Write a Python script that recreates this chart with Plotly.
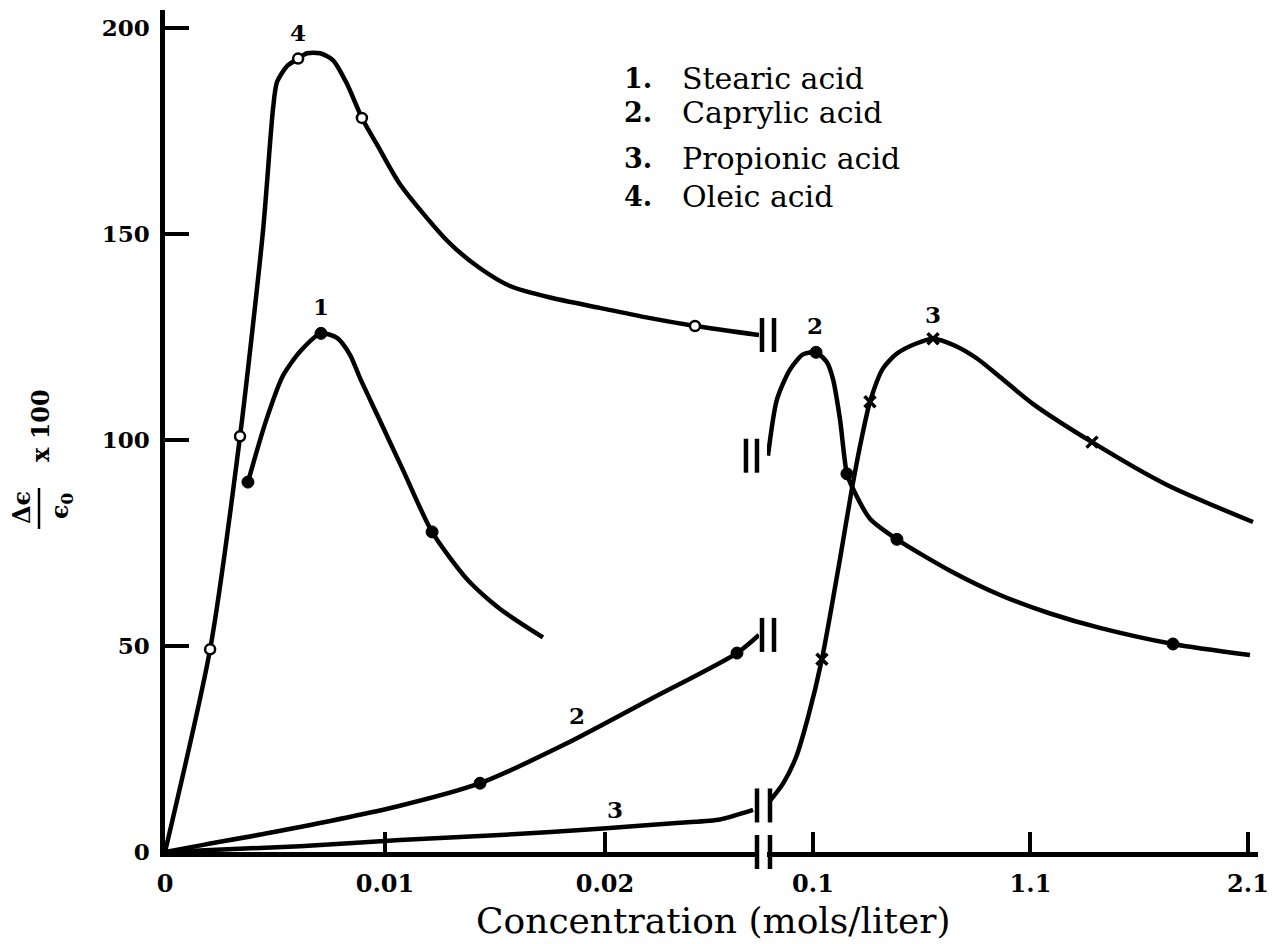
import plotly.graph_objects as go

# ---------------- data (concentration in mols/liter, value = (delta eps / eps0) x 100) ----------------
# left (low concentration) panel
oleic_curve_c = [0, 0.00205, 0.00341, 0.00445, 0.00491, 0.00509, 0.00555, 0.00605,
                 0.00645, 0.00705, 0.00764, 0.00827, 0.00895, 0.00964, 0.01068, 0.01286, 0.01432,
                 0.01568, 0.01750, 0.01977, 0.02205, 0.02409, 0.02700]
oleic_curve_v = [0, 49.2, 100.9, 150.5, 180.4, 186.9, 190.8, 192.6,
                 193.9, 193.9, 192.2, 186.5, 178.2, 171.7, 162.1, 148.2, 141.7,
                 137.4, 134.6, 132.1, 129.6, 127.7, 125.5]
oleic_pts_c = [0.00205, 0.00341, 0.00605, 0.00895, 0.02409]
oleic_pts_v = [49.2, 100.9, 192.6, 178.2, 127.7]

stearic_curve_c = [0.00377, 0.00455, 0.00536, 0.00614, 0.00709, 0.00782, 0.00841, 0.00886, 0.00964,
                   0.01082, 0.01214, 0.01373, 0.01523, 0.01718]
stearic_curve_v = [89.8, 104.0, 115.6, 121.5, 125.9, 124.8, 120.7, 115.1, 106.2,
                   92.7, 77.7, 66.2, 59.0, 52.1]
stearic_pts_c = [0.00377, 0.00709, 0.01214]
stearic_pts_v = [89.8, 125.9, 77.7]

caprylic_low_curve_c = [0, 0.0018, 0.0047, 0.0105, 0.01432, 0.0182, 0.0221, 0.0260, 0.0270]
caprylic_low_curve_v = [0, 1.8, 4.6, 11.0, 16.7, 26.2, 37.2, 48.3, 52.7]
caprylic_low_pts_c = [0.01432, 0.02600]
caprylic_low_pts_v = [16.7, 48.3]

propionic_low_curve_c = [0, 0.00614, 0.01068, 0.01523, 0.01991, 0.02341, 0.02523, 0.02673]
propionic_low_curve_v = [0, 1.4, 2.9, 4.1, 5.7, 7.1, 7.9, 10.2]

# right (high concentration) panel
caprylic_high_curve_c = [-0.107, -0.066, -0.006, 0.054, 0.114, 0.164, 0.192, 0.224, 0.256, 0.284,
                         0.362, 0.486, 0.730, 0.960, 1.190, 1.419, 1.755, 2.109]
caprylic_high_curve_v = [96.2, 109.8, 117.1, 120.8, 121.3, 118.9, 114.8, 105.1, 91.8, 88.2,
                         80.9, 75.9, 68.3, 62.4, 57.9, 54.4, 50.5, 47.8]
caprylic_high_pts_c = [0.114, 0.256, 0.486, 1.755]
caprylic_high_pts_v = [121.3, 91.8, 75.9, 50.5]

propionic_high_curve_c = [-0.098, -0.038, 0.022, 0.077, 0.141, 0.224, 0.279, 0.325, 0.362, 0.422,
                          0.486, 0.578, 0.652, 0.753, 0.854, 0.960, 1.111, 1.383, 1.728, 2.123]
propionic_high_curve_v = [12.4, 16.6, 23.0, 32.7, 46.8, 71.1, 88.2, 100.8, 109.3, 117.4,
                          121.0, 123.5, 124.6, 122.9, 119.8, 115.3, 108.8, 99.5, 89.1, 80.1]
propionic_high_pts_c = [0.141, 0.362, 0.652, 1.383]
propionic_high_pts_v = [46.8, 109.3, 124.6, 99.5]

legend_numbers = ["1.", "2.", "3.", "4."]
legend_names = ["Stearic acid", "Caprylic acid", "Propionic acid", "Oleic acid"]

x_low_ticks = [0, 0.01, 0.02]
x_low_ticktext = ["0", "0.01", "0.02"]
x_high_ticks = [0.1, 1.1, 2.1]
x_high_ticktext = ["0.1", "1.1", "2.1"]
y_ticks = [0, 50, 100, 150, 200]

# ---------------- layout geometry (screen pixels; page body has an 8px margin) ----------------
BODY = 8
FIG_W, FIG_H = 1284 - 2 * BODY, 944
L_PX, R_PX, T_PX, B_PX = 165, 1258, 10, 852
W = R_PX - L_PX
H = B_PX - T_PX
X1_RANGE = [0, 0.0270]
X2_RANGE = [-0.1115, 2.146]
Y_RANGE = [0, 204.4]
LEFT_SCALE = 22000.0      # px per unit, low panel
RIGHT_SCALE = 217.5       # px per unit, high panel
X1_DOMAIN = [0, (X1_RANGE[1] - X1_RANGE[0]) * LEFT_SCALE / W]
X2_DOMAIN = [1 - (X2_RANGE[1] - X2_RANGE[0]) * RIGHT_SCALE / W, 1]

FONT = "DejaVu Serif"
LW = 4.5


def data_to_paper(axis, c, v):
    if axis == "x":
        dom, rng = X1_DOMAIN, X1_RANGE
    else:
        dom, rng = X2_DOMAIN, X2_RANGE
    px = dom[0] + (c - rng[0]) / (rng[1] - rng[0]) * (dom[1] - dom[0])
    py = (v - Y_RANGE[0]) / (Y_RANGE[1] - Y_RANGE[0])
    return px, py


def pix_to_paper(x, y):
    return (x - L_PX) / W, (B_PX - y) / H


fig = go.Figure()


def add_curve(c, v, axis):
    fig.add_trace(go.Scatter(x=c, y=v, xaxis=axis, yaxis="y", mode="lines",
                             line=dict(color="black", width=LW, shape="spline", smoothing=0.7),
                             hoverinfo="skip", showlegend=False))


def add_points(c, v, axis, kind):
    if kind == "open":
        mk = dict(symbol="circle", size=10, color="white", line=dict(color="black", width=2.5))
    elif kind == "dot":
        mk = dict(symbol="circle", size=12, color="black", line=dict(color="black", width=1))
    else:
        mk = dict(symbol="x-thin", size=11, color="black", line=dict(color="black", width=3.5))
    fig.add_trace(go.Scatter(x=c, y=v, xaxis=axis, yaxis="y", mode="markers", marker=mk,
                             cliponaxis=False, showlegend=False))


add_curve(oleic_curve_c, oleic_curve_v, "x")
add_curve(stearic_curve_c, stearic_curve_v, "x")
add_curve(caprylic_low_curve_c, caprylic_low_curve_v, "x")
add_curve(propionic_low_curve_c, propionic_low_curve_v, "x")
add_curve(caprylic_high_curve_c, caprylic_high_curve_v, "x2")
add_curve(propionic_high_curve_c, propionic_high_curve_v, "x2")

add_points(oleic_pts_c, oleic_pts_v, "x", "open")
add_points(stearic_pts_c, stearic_pts_v, "x", "dot")
add_points(caprylic_low_pts_c, caprylic_low_pts_v, "x", "dot")
add_points(caprylic_high_pts_c, caprylic_high_pts_v, "x2", "dot")
add_points(propionic_high_pts_c, propionic_high_pts_v, "x2", "cross")

# ---------------- axes ----------------
xtickfont = dict(family=FONT, size=24, color="black", weight="bold")
ytickfont = dict(family=FONT, size=23, color="black", weight="bold")
common_x = dict(showgrid=False, zeroline=False, showline=True, linecolor="black", linewidth=LW,
                ticks="inside", ticklen=20, tickwidth=3.5, tickcolor="black", tickfont=xtickfont,
                anchor="y", fixedrange=True, ticklabelstandoff=6)
fig.update_layout(
    width=FIG_W, height=FIG_H,
    margin=dict(l=L_PX - BODY, r=FIG_W + BODY - R_PX, t=T_PX - BODY, b=FIG_H + BODY - B_PX),
    paper_bgcolor="white", plot_bgcolor="white",
    xaxis=dict(domain=X1_DOMAIN, range=X1_RANGE, tickvals=x_low_ticks, ticktext=x_low_ticktext, **common_x),
    xaxis2=dict(domain=X2_DOMAIN, range=X2_RANGE, tickvals=x_high_ticks, ticktext=x_high_ticktext, **common_x),
    yaxis=dict(range=Y_RANGE, tickvals=y_ticks, showgrid=False, zeroline=False, showline=True,
               linecolor="black", linewidth=LW, ticks="inside", ticklen=24, tickwidth=4,
               tickcolor="black", tickfont=ytickfont, anchor="x", fixedrange=True,
               ticklabelstandoff=6),
    showlegend=False,
)

annotations = []
shapes = []

# curve labels
label_font = dict(family=FONT, size=23, color="black", weight="bold")
curve_labels = [("x", 0.00605, 199.0, "4"), ("x", 0.00709, 132.5, "1"),
                ("x", 0.01873, 33.2, "2"), ("x", 0.02045, 10.3, "3"),
                ("x2", 0.109, 127.9, "2"), ("x2", 0.652, 130.6, "3")]
for ax, c, v, t in curve_labels:
    annotations.append(dict(x=c, y=v, xref=ax, yref="y", text=t, showarrow=False,
                            font=label_font, xanchor="center", yanchor="middle"))

# legend text block
row_y = [78, 113, 158, 197]
for num, name, yy in zip(legend_numbers, legend_names, row_y):
    nx, ny = pix_to_paper(654, yy)
    annotations.append(dict(x=nx, y=ny, xref="paper", yref="paper", text=num, showarrow=False,
                            font=dict(family=FONT, size=27, color="black", weight="bold"),
                            xanchor="right", yanchor="middle"))
    tx, ty = pix_to_paper(680, yy)
    annotations.append(dict(x=tx, y=ty, xref="paper", yref="paper", text=name, showarrow=False,
                            font=dict(family=FONT, size=30, color="black"),
                            xanchor="left", yanchor="middle"))

# x axis title
tx, ty = pix_to_paper(713, 920)
annotations.append(dict(x=tx, y=ty, xref="paper", yref="paper", text="Concentration (mols/liter)",
                        showarrow=False, font=dict(family=FONT, size=36, color="black"),
                        xanchor="center", yanchor="middle"))

# y axis title: fraction (delta eps / eps0) x 100, rotated
yfont = dict(family=FONT, size=24, color="black", weight="bold")
for (px_, py_, txt) in [(21, 508, "Δϵ"), (61, 506, "ϵ<sub>0</sub>"), (40, 426, "x 100")]:
    ax_, ay_ = pix_to_paper(px_, py_)
    annotations.append(dict(x=ax_, y=ay_, xref="paper", yref="paper", text=txt, showarrow=False,
                            font=yfont, textangle=-90, xanchor="center", yanchor="middle"))
bx0, by0 = pix_to_paper(39, 488)
bx1, by1 = pix_to_paper(39, 529)
shapes.append(dict(type="line", xref="paper", yref="paper", x0=bx0, y0=by0, x1=bx1, y1=by1,
                   line=dict(color="black", width=2.5)))


# axis / curve break marks (pairs of short bars)
def break_bars(axis, c, v, offsets, half=17):
    ax_, ay_ = data_to_paper(axis, c, v)
    for dx in offsets:
        shapes.append(dict(type="line", xref="paper", yref="paper",
                           xsizemode="pixel", ysizemode="pixel",
                           xanchor=ax_, yanchor=ay_, x0=dx, x1=dx, y0=-half, y1=half,
                           line=dict(color="black", width=LW)))


# x axis break
break_bars("x", X1_RANGE[1], Y_RANGE[0], [-2])
break_bars("x2", X2_RANGE[0], Y_RANGE[0], [3])
# propionic break (low end / high start)
mid3 = (propionic_low_curve_v[-1] + propionic_high_curve_v[0]) / 2
break_bars("x", X1_RANGE[1], mid3, [-2])
break_bars("x2", X2_RANGE[0], mid3, [3])
# oleic end
break_bars("x", oleic_curve_c[-1], oleic_curve_v[-1], [3, 15])
# caprylic low end
break_bars("x", caprylic_low_curve_c[-1], caprylic_low_curve_v[-1], [3, 15])
# caprylic high start
break_bars("x2", caprylic_high_curve_c[0], caprylic_high_curve_v[0], [-22, -11])

fig.update_layout(annotations=annotations, shapes=shapes)

fig.write_html("out.html")
